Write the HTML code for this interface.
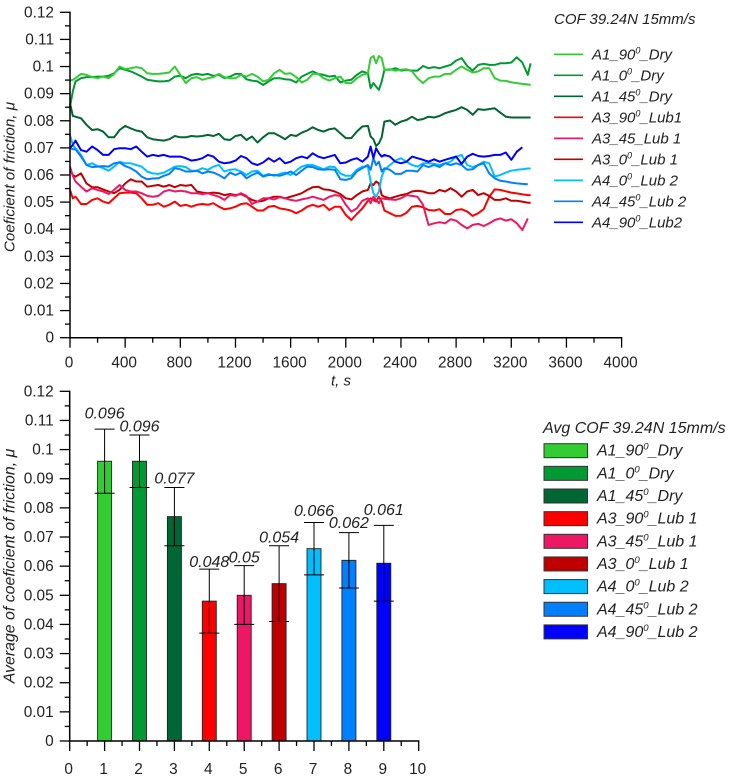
<!DOCTYPE html>
<html lang="en">
<head>
<meta charset="utf-8">
<title>Coefficient of friction charts</title>
<style>
html,body{margin:0;padding:0;background:#fff;width:738px;height:779px;overflow:hidden}
svg{display:block}
text{font-family:"Liberation Sans",Arial,sans-serif;fill:#222}
</style>
</head>
<body>
<svg id="chart" xmlns="http://www.w3.org/2000/svg" width="738" height="779" viewBox="0 0 738 779"></svg>
<script>
const times = [
0,20,40,80,120,160,200,240,280,320,
360,400,440,480,520,560,600,640,680,720,
760,800,840,880,920,960,1000,1040,1080,1120,
1160,1200,1240,1280,1320,1360,1400,1440,1480,1520,
1560,1600,1640,1680,1720,1760,1800,1840,1880,1920,
1960,2000,2040,2080,2120,2160,2180,2200,2220,2240,
2260,2280,2320,2360,2400,2440,2480,2520,2560,2600,
2640,2680,2720,2760,2800,2840,2880,2920,2960,3000,
3040,3080,3120,3160,3200,3240,3280,3320,3340];

const a1_90_dry = [
.0948,.0951,.0957,.0973,.0969,.0961,.0957,.0963,.0957,.0973,
.1,.0991,.0994,.0998,.0994,.0975,.0973,.0973,.0975,.0978,
.1,.0969,.0939,.0957,.0961,.0951,.0957,.0961,.0973,.0961,
.0957,.0957,.0969,.0963,.0973,.0963,.0945,.0951,.0975,.0988,
.0973,.0975,.0961,.0941,.0951,.0973,.0973,.0957,.0948,.0957,
.0963,.0939,.0939,.0957,.0969,.0975,.1031,.1039,.1012,.1039,
.1031,.0988,.0990,.0985,.0988,.0990,.0982,.0957,.0939,.0957,
.0963,.0963,.0973,.0973,.0988,.1,.0988,.0978,.0982,.0994,
.0994,.0957,.0948,.0947,.0942,.0939,.0936,.0934,.0932];
const a1_0_dry = [
.0852,.0908,.0945,.0957,.0961,.0961,.0963,.0963,.0966,.0975,
.0994,.0988,.0982,.0973,.0963,.0951,.0948,.0945,.0945,.0948,
.0963,.0966,.0957,.0969,.0973,.0969,.0973,.0966,.0969,.0957,
.0963,.0973,.0973,.0953,.0948,.0945,.0932,.0945,.0957,.0957,
.0953,.0951,.0941,.0963,.0973,.0982,.0973,.0969,.0963,.0966,
.0941,.0948,.0951,.0969,.0982,.0975,.0920,.0939,.0926,.0914,
.0945,.0988,.0988,.0994,.0985,.0988,.0985,.0985,.1002,.0994,
.0998,.0994,.1,.1006,.1022,.1031,.1002,.0985,.1006,.1010,
.1006,.1006,.1012,.1012,.1015,.1034,.1015,.0969,.1012];
const a1_45_dry = [
.0865,.0818,.0815,.0809,.0785,.0766,.0769,.0760,.0739,.0739,
.0766,.0781,.0772,.0764,.0760,.0739,.0732,.0729,.0727,.0732,
.0744,.0739,.0739,.0744,.0742,.0744,.0748,.0744,.0752,.0732,
.0729,.0744,.0748,.0729,.0742,.0720,.0739,.0754,.0754,.0744,
.0732,.0748,.0744,.0756,.0764,.0776,.0766,.0760,.0769,.0772,
.0754,.0736,.0736,.0760,.0779,.0781,.0742,.0732,.0707,.0717,
.0739,.0797,.0801,.0785,.0797,.0803,.0815,.0803,.0806,.0815,
.0812,.0818,.0828,.0834,.0840,.0850,.0840,.0822,.0843,.0840,
.0843,.0846,.0830,.0815,.0812,.0812,.0812,.0812,.0812];
const a3_90_lub1 = [
.0545,.0514,.0520,.0493,.0493,.0508,.0514,.0502,.0496,.0514,
.0533,.0535,.0535,.0533,.0514,.0490,.0490,.0496,.0483,.0490,
.0502,.0486,.0490,.0483,.0490,.0493,.0490,.0496,.0483,.0474,
.0477,.0483,.0493,.0496,.0483,.0469,.0469,.0483,.0486,.0477,
.0474,.0469,.0459,.0469,.0483,.0490,.0483,.0490,.0471,.0483,
.0483,.0453,.0434,.0456,.0477,.0505,.0514,.0508,.0502,.0520,
.0502,.0469,.0459,.0449,.0450,.0461,.0483,.0486,.0481,.0471,
.0469,.0474,.0456,.0456,.0471,.0474,.0465,.0449,.0459,.0474,
.0520,.0547,.0545,.0540,.0535,.0532,.0529,.0526,.0526];
const a3_45_lub1 = [
.0631,.0597,.0576,.0557,.0539,.0551,.0545,.0539,.0530,.0545,
.0563,.0545,.0539,.0539,.0533,.0523,.0520,.0523,.0539,.0545,
.0539,.0542,.0539,.0533,.0533,.0530,.0533,.0526,.0520,.0508,
.0526,.0523,.0533,.0523,.0493,.0502,.0514,.0514,.0510,.0518,
.0514,.0508,.0505,.0510,.0514,.0520,.0514,.0508,.0520,.0526,
.0523,.0490,.0465,.0477,.0505,.0514,.0496,.0520,.0508,.0496,
.0514,.0512,.0510,.0508,.0514,.0526,.0523,.0520,.0490,.0416,
.0422,.0426,.0422,.0437,.0432,.0416,.0403,.0416,.0420,.0412,
.0422,.0434,.0440,.0432,.0437,.0422,.0397,.0440];
const a3_0_lub1 = [
.0619,.0600,.0594,.0606,.0569,.0555,.0555,.0547,.0539,.0533,
.0545,.0569,.0584,.0576,.0576,.0557,.0560,.0563,.0557,.0563,
.0555,.0563,.0560,.0563,.0539,.0535,.0533,.0535,.0533,.0526,
.0530,.0526,.0530,.0520,.0508,.0502,.0505,.0514,.0520,.0520,
.0514,.0520,.0526,.0533,.0545,.0555,.0557,.0547,.0545,.0539,
.0530,.0514,.0510,.0526,.0539,.0545,.0569,.0563,.0576,.0569,
.0526,.0520,.0514,.0520,.0526,.0530,.0539,.0542,.0539,.0533,
.0533,.0545,.0539,.0551,.0539,.0520,.0539,.0545,.0526,.0533,
.0523,.0508,.0508,.0514,.0505,.0505,.0502,.0498,.0498];
const a4_0_lub2 = [
.0748,.0711,.0699,.0674,.0637,.0643,.0633,.0625,.0616,.0631,
.0649,.0643,.0643,.0637,.0631,.0613,.0606,.0604,.0609,.0619,
.0631,.0633,.0629,.0616,.0616,.0625,.0619,.0631,.0637,.0613,
.0619,.0621,.0613,.0600,.0613,.0616,.0597,.0604,.0597,.0604,
.0609,.0600,.0616,.0631,.0637,.0637,.0629,.0621,.0631,.0629,
.0606,.0597,.0597,.0619,.0631,.0631,.0576,.0533,.0520,.0539,
.0594,.0619,.0637,.0653,.0662,.0649,.0637,.0631,.0643,.0643,
.0641,.0637,.0643,.0649,.0668,.0674,.0637,.0629,.0637,.0649,
.0643,.0594,.0600,.0609,.0616,.0619,.0621,.0624,.0624];
const a4_45_lub2 = [
.0699,.0695,.0695,.0668,.0637,.0629,.0631,.0633,.0631,.0643,
.0646,.0633,.0625,.0613,.0594,.0584,.0587,.0588,.0597,.0604,
.0625,.0621,.0613,.0613,.0616,.0606,.0613,.0609,.0600,.0588,
.0609,.0600,.0609,.0588,.0600,.0609,.0594,.0600,.0600,.0597,
.0604,.0613,.0600,.0616,.0631,.0629,.0621,.0619,.0621,.0619,
.0584,.0582,.0588,.0613,.0625,.0637,.0619,.0662,.0637,.0649,
.0613,.0625,.0619,.0604,.0604,.0616,.0616,.0613,.0637,.0629,
.0637,.0629,.0643,.0637,.0643,.0637,.0619,.0621,.0637,.0643,
.0606,.0588,.0579,.0576,.0572,.0569,.0567,.0566];
const a4_90_lub2 = [
.0699,.0711,.0727,.0692,.0686,.0705,.0692,.0674,.0674,.0695,
.0699,.0699,.0695,.0705,.0686,.0668,.0674,.0670,.0674,.0668,
.0668,.0668,.0662,.0653,.0656,.0662,.0674,.0668,.0649,.0643,
.0646,.0653,.0670,.0662,.0643,.0637,.0646,.0662,.0649,.0662,
.0643,.0649,.0662,.0668,.0662,.0680,.0668,.0662,.0668,.0674,
.0643,.0646,.0656,.0662,.0649,.0668,.0705,.0662,.0699,.0680,
.0668,.0674,.0668,.0649,.0643,.0649,.0668,.0662,.0656,.0649,
.0658,.0649,.0656,.0662,.0668,.0641,.0668,.0678,.0670,.0668,
.0670,.0674,.0674,.0683,.0656,.0686,.0702];

const lineLabels = ["A1_90^_Dry","A1_0^_Dry","A1_45^_Dry","A3_90^_Lub1","A3_45_Lub 1","A3_0^_Lub 1","A4_0^_Lub 2","A4_45^_Lub 2","A4_90^_Lub2"];
const barLabels = ["A1_90^_Dry","A1_0^_Dry","A1_45^_Dry","A3_90^_Lub 1","A3_45^_Lub 1","A3_0^_Lub 1","A4_0^_Lub 2","A4_45^_Lub 2","A4_90^_Lub 2"];
const colors = ["#33cc33","#009933","#006633","#ff0000","#ee1763","#c00000","#00bfff","#0080ff","#0000ff"];

const barCategories = [1,2,3,4,5,6,7,8,9];
const barValues = [0.096,0.096,0.077,0.048,0.05,0.054,0.066,0.062,0.061];
const barErrHigh = [0.107,0.105,0.087,0.059,0.0602,0.067,0.075,0.0715,0.074];
const barErrLow = [0.085,0.087,0.067,0.037,0.040,0.041,0.057,0.0525,0.048];
const barValueText = ["0.096","0.096","0.077","0.048","0.05","0.054","0.066","0.062","0.061"];

const topYTicks = ["0","0.01","0.02","0.03","0.04","0.05","0.06","0.07","0.08","0.09","0.1","0.11","0.12"];
const topXTicks = ["0","400","800","1200","1600","2000","2400","2800","3200","3600","4000"];
const botYTicks = ["0","0.01","0.02","0.03","0.04","0.05","0.06","0.07","0.08","0.09","0.1","0.11","0.12"];
const botXTicks = ["0","1","2","3","4","5","6","7","8","9","10"];

const svg = document.getElementById('chart');
const NS = 'http://www.w3.org/2000/svg';
function make(tag, attrs, parent){
  const e = document.createElementNS(NS, tag);
  for (const k in attrs) e.setAttribute(k, attrs[k]);
  (parent || svg).appendChild(e);
  return e;
}
function seg(parent, x1, y1, x2, y2, w){
  return make('line', {x1:x1, y1:y1, x2:x2, y2:y2, stroke:'#000', 'stroke-width':w}, parent);
}
function supText(parent, s, x, y, size){
  const t = make('text', {x:x, y:y, 'font-size':size, 'font-style':'italic', 'dominant-baseline':'central'}, parent);
  const parts = s.split('^');
  const a = make('tspan', {}, t);
  a.textContent = parts[0];
  if (parts.length > 1) {
    const z = make('tspan', {dy:-4, 'font-size':size * 0.6}, t);
    z.textContent = '0';
    const b = make('tspan', {dy:4}, t);
    b.textContent = parts[1];
  }
  return t;
}

/* axis functions */
const topX = v => 70 + v * (621.6 - 70) / 4000;
const topY = v => 337.7 - v * (337.7 - 12.3) / 0.12;
const botX = v => 69.7 + v * (418.7 - 69.7) / 10;
const botY = v => 741 - v * (741 - 391.3) / 0.12;

function drawAxes(name, xFn, yFn, xTicks, yTicks, xMax, xStep, labelY){
  const g = make('g', {});
  
  
  const y0 = yFn(0), x0 = xFn(0);
  seg(g, x0, yFn(0.12) - 0.7, x0, y0 + 0.7, 1.5);
  seg(g, x0, y0, xFn(xMax) + 0.7, y0, 1.5);
  for (let i = 0; i < yTicks.length; i++) {
    const y = yFn(i * 0.01);
    seg(g, x0 - 10, y, x0, y, 1.3);
    if (i < yTicks.length - 1) seg(g, x0 - 5, yFn((i + 0.5) * 0.01), x0, yFn((i + 0.5) * 0.01), 1.3);
    const t = make('text', {x:x0 - 16, y:y + 0.5, 'font-size':15.4, 'text-anchor':'end', 'dominant-baseline':'central'}, g);
    t.textContent = yTicks[i];
    
    
  }
  for (let i = 0; i < xTicks.length; i++) {
    const v = i * xStep;
    seg(g, xFn(v), y0, xFn(v), y0 + 10, 1.3);
    if (i < xTicks.length - 1) seg(g, xFn(v + xStep / 2), y0, xFn(v + xStep / 2), y0 + 5, 1.3);
    const t = make('text', {x:xFn(v) - 1, y:labelY, 'font-size':15.4, 'text-anchor':'middle', 'dominant-baseline':'central'}, g);
    t.textContent = xTicks[i];
    
    
  }
}

/* top chart */
const allSeries = [a1_90_dry,a1_0_dry,a1_45_dry,a3_90_lub1,a3_45_lub1,a3_0_lub1,a4_0_lub2,a4_45_lub2,a4_90_lub2];
const seriesOrder = [2,1,0,3,5,4,6,7,8];
const linesGroup = make('g', {fill:'none'});


seriesOrder.forEach(i => {
  const pts = allSeries[i].map((v, k) => topX(times[k]).toFixed(1) + ',' + topY(v).toFixed(1)).join(' ');
  const p = make('polyline', {points:pts, stroke:colors[i], 'stroke-width':2, 'stroke-linejoin':'round', fill:'none'}, linesGroup);
  
  
});
drawAxes('top-chart', topX, topY, topXTicks, topYTicks, 4000, 400, 363);

const topXTitle = make('text', {x:341, y:381, 'font-size':15, 'font-style':'italic', 'text-anchor':'middle', 'dominant-baseline':'central'});
topXTitle.textContent = 't, s';


const topYTitle = make('text', {transform:'translate(10,177) rotate(-90)', 'font-size':15.2, 'font-style':'italic', 'text-anchor':'middle', 'dominant-baseline':'central'});
topYTitle.textContent = 'Coeficient of friction, \u03BC';



const topLegend = make('g', {});


const topLegendTitle = make('text', {x:554, y:19.5, 'font-size':15, 'font-style':'italic', 'dominant-baseline':'central'}, topLegend);
topLegendTitle.textContent = 'COF 39.24N 15mm/s';


lineLabels.forEach((s, i) => {
  const y = 54.3 + i * 21;
  const k = make('line', {x1:554, y1:y, x2:583, y2:y, stroke:colors[i], 'stroke-width':1.6}, topLegend);
  
  
  const t = supText(topLegend, s, 592, y, 15);
  
  
});

/* bottom chart */
const barsGroup = make('g', {});


const barHalf = 7;
barCategories.forEach((c, i) => {
  const x = botX(c);
  const b = make('rect', {x:x - barHalf, y:botY(barValues[i]), width:barHalf * 2, height:botY(0) - botY(barValues[i]), fill:colors[i], stroke:'#222', 'stroke-width':0.9}, barsGroup);
  
  
});
drawAxes('bottom-chart', botX, botY, botXTicks, botYTicks, 10, 1, 769.5);
const labelLift = [15,8,8.5,6.5,7.5,8,11,9,15];
barCategories.forEach((c, i) => {
  const x = botX(c);
  const g = make('g', {});
  
  
  seg(g, x, botY(barErrHigh[i]), x, botY(barErrLow[i]), 1);
  seg(g, x - 10, botY(barErrHigh[i]), x + 10, botY(barErrHigh[i]), 1);
  seg(g, x - 10, botY(barErrLow[i]), x + 10, botY(barErrLow[i]), 1);
  const t = make('text', {x:x, y:botY(barErrHigh[i]) - labelLift[i], 'font-size':16, 'font-style':'italic', 'text-anchor':'middle', 'dominant-baseline':'central'});
  t.textContent = barValueText[i];
  
  
});

const botYTitle = make('text', {transform:'translate(10,566) rotate(-90)', 'font-size':15.9, 'font-style':'italic', 'text-anchor':'middle', 'dominant-baseline':'central'});
botYTitle.textContent = 'Average of coeficient of friction, \u03BC';



const botLegend = make('g', {});


const botLegendTitle = make('text', {x:543, y:428.5, 'font-size':16, 'font-style':'italic', 'dominant-baseline':'central'}, botLegend);
botLegendTitle.textContent = 'Avg COF 39.24N 15mm/s';


barLabels.forEach((s, i) => {
  const y = 450.7 + i * 22.65;
  const k = make('rect', {x:544, y:y - 7, width:43.5, height:14, fill:colors[i], stroke:'#333', 'stroke-width':1}, botLegend);
  
  
  const t = supText(botLegend, s, 597, y, 16);
  
  
});
</script>
</body>
</html>
